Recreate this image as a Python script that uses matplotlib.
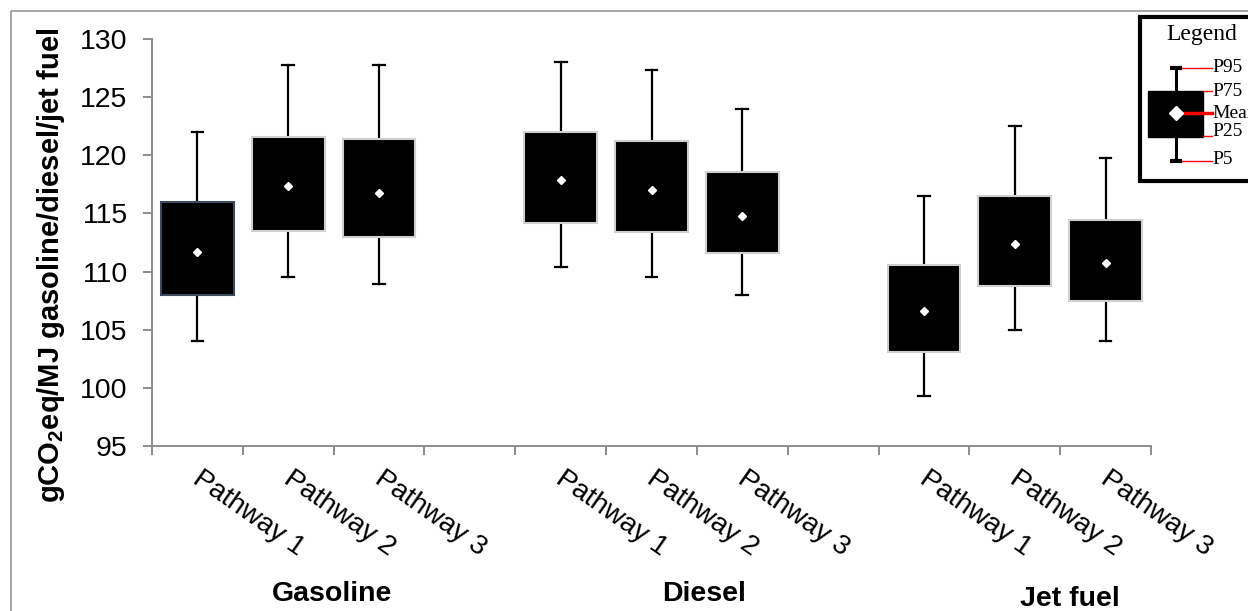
import matplotlib
matplotlib.use("Agg")
import matplotlib.pyplot as plt
from matplotlib.patches import Rectangle
from matplotlib.transforms import blended_transform_factory

plt.rcParams['font.family'] = ['Liberation Sans', 'DejaVu Sans']
plt.rcParams['mathtext.default'] = 'regular'

# ---- data -------------------------------------------------------------
fuels = ['Gasoline', 'Diesel', 'Jet fuel']
pathways = ['Pathway 1', 'Pathway 2', 'Pathway 3']

# percentiles and mean per (fuel, pathway), gCO2eq/MJ
p5 = [104.0, 109.5, 108.9, 110.4, 109.5, 108.0, 99.3, 105.0, 104.0]
p25 = [108.0, 113.5, 113.0, 114.2, 113.4, 111.6, 103.1, 108.8, 107.5]
mean = [111.7, 117.35, 116.75, 117.9, 117.0, 114.8, 106.6, 112.4, 110.7]
p75 = [115.95, 121.6, 121.4, 122.0, 121.25, 118.6, 110.6, 116.5, 114.45]
p95 = [122.0, 127.8, 127.8, 128.0, 127.3, 124.0, 116.5, 122.5, 119.8]

y_ticks = [95, 100, 105, 110, 115, 120, 125, 130]

# ---- figure -----------------------------------------------------------
W, H = 1248, 611
fig = plt.figure(figsize=(W / 100, H / 100), dpi=100)
ax = fig.add_axes([152 / W, 1 - 446 / H, (1151 - 152) / W, (446 - 39) / H])

n_fuel, n_path = len(fuels), len(pathways)
positions = [g * (n_path + 1) + j for g in range(n_fuel) for j in range(n_path)]

stats = []
for i in range(len(positions)):
    stats.append(dict(whislo=p5[i], q1=p25[i], med=mean[i], q3=p75[i],
                      whishi=p95[i], mean=mean[i], fliers=[]))

bp = ax.bxp(stats, positions=positions, widths=0.8, capwidths=0.13,
            patch_artist=True, showmeans=True, showfliers=False,
            boxprops=dict(facecolor='black', edgecolor='#cfcfcf', linewidth=1.5),
            whiskerprops=dict(color='black', linewidth=1.6),
            capprops=dict(color='black', linewidth=1.6),
            medianprops=dict(linewidth=0),
            meanprops=dict(marker='D', markerfacecolor='white',
                           markeredgecolor='white', markersize=3.6))
bp['boxes'][0].set_edgecolor('#3c4a5c')
for box in bp['boxes']:
    box.set_zorder(3)
for m in bp['means']:
    m.set_zorder(4)

n_slots = n_fuel * (n_path + 1) - 1
ax.set_xlim(-0.5, n_slots - 0.5)
ax.set_ylim(95, 130)
ax.set_yticks(y_ticks)
ax.set_xticks([k - 0.5 for k in range(n_slots + 1)])
ax.set_xticklabels([])

for s in ['top', 'right']:
    ax.spines[s].set_visible(False)
for s in ['left', 'bottom']:
    ax.spines[s].set_color('#8c8c8c')
    ax.spines[s].set_linewidth(1.4)
ax.tick_params(axis='both', colors='#8c8c8c', width=1.4, length=6.5)
ax.tick_params(axis='y', labelcolor='black', labelsize=20.5, pad=11)
ax.tick_params(axis='x', direction='out')

# rotated pathway labels
for g in range(n_fuel):
    for j, name in enumerate(pathways):
        ax.annotate(name, xy=(g * (n_path + 1) + j, 0),
                    xycoords=('data', 'axes fraction'),
                    xytext=(4, -14), textcoords='offset points',
                    rotation=-35, rotation_mode='anchor',
                    ha='left', va='top', fontsize=20, color='black')

# fuel group labels
group_shift = [0.48, 0.58, 0.61]
group_base = [601, 601, 606]
trans = blended_transform_factory(ax.transData, fig.transFigure)
for g, name in enumerate(fuels):
    ax.text(g * (n_path + 1) + 1 + group_shift[g], 1 - group_base[g] / H, name,
            transform=trans, ha='center', va='baseline',
            fontsize=20.5, fontweight='bold', clip_on=False)

fig.text(51 / W, 1 - 265 / H, 'gCO$_2$eq/MJ gasoline/diesel/jet fuel',
         rotation=90, ha='center', va='center', fontsize=21, fontweight='bold')

# ---- overlay: chart frame and legend key --------------------------------
ov = fig.add_axes([0, 0, 1, 1], zorder=10)
ov.set_xlim(0, W)
ov.set_ylim(H, 0)
ov.axis('off')
ov.patch.set_alpha(0)

ov.add_patch(Rectangle((11, 11), W + 40, H + 40, fill=False,
                       edgecolor='#8c8c8c', linewidth=1.1, clip_on=False))

ov.add_patch(Rectangle((1139.5, 16.5), 200, 164.5, facecolor='white',
                       edgecolor='black', linewidth=3, clip_on=False))
serif = ['Liberation Serif', 'DejaVu Serif']
ov.text(1202, 40, 'Legend', family=serif, fontsize=17, ha='center', va='baseline')

kx = 1176
ov.plot([kx, kx], [68, 161], color='black', linewidth=2.2, solid_capstyle='butt')
ov.plot([kx - 6, kx + 6], [68, 68], color='black', linewidth=3, solid_capstyle='butt')
ov.plot([kx - 6, kx + 6], [161, 161], color='black', linewidth=3, solid_capstyle='butt')
ov.add_patch(Rectangle((1148, 91), 55, 46, facecolor='black', edgecolor='black'))
ov.plot([kx], [113], marker='D', markersize=7.5, markerfacecolor='white',
        markeredgecolor='white', zorder=5)

ov.plot([1182, 1212], [68, 68], color='red', linewidth=1)
ov.plot([1203, 1212], [91, 91], color='red', linewidth=1)
ov.plot([1183, 1212], [113, 113], color='red', linewidth=2.5)
ov.plot([1203, 1212], [136, 136], color='red', linewidth=1)
ov.plot([1182, 1212], [161, 161], color='red', linewidth=1)

for label, yy in [('P95', 68), ('P75', 92), ('Mean', 113), ('P25', 131), ('P5', 160)]:
    ov.text(1212, yy, label, family=serif, fontsize=14, ha='left', va='center')

fig.savefig('out.png', dpi=100)
